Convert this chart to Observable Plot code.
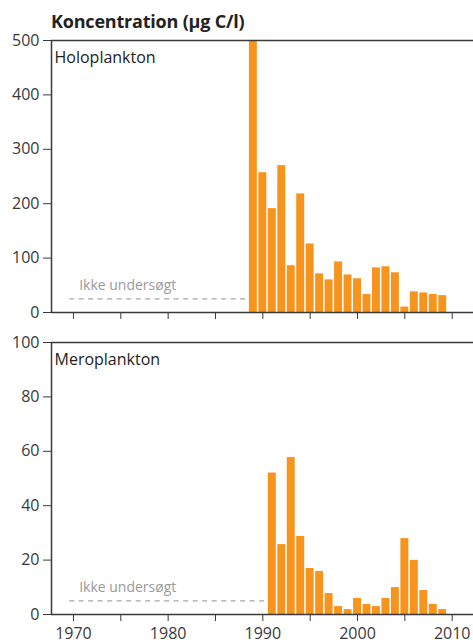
<!DOCTYPE html>
<html><head><meta charset="utf-8">
<script src="https://cdn.jsdelivr.net/npm/d3@7"></script>
<script src="https://cdn.jsdelivr.net/npm/@observablehq/plot@0.6"></script>
<style>
body{margin:0;background:#fff;font-family:"Open Sans",sans-serif;width:473px;height:643px;overflow:hidden;}
#title{height:32px;position:relative;}
#title span{position:absolute;left:51px;top:12px;line-height:1;font-weight:bold;font-size:18px;color:#222;white-space:nowrap;letter-spacing:-0.2px;}
svg{display:block}
</style></head><body>
<div id="title"><span>Koncentration (µg C/l)</span></div>
<div id="top"></div><div id="bottom"></div>
<script>
const holoYears = [1989,1990,1991,1992,1993,1994,1995,1996,1997,1998,1999,2000,2001,2002,2003,2004,2005,2006,2007,2008,2009];
const holoValues = [500,257,191,270,86,218,126,71,60,93,69,62,33,82,84,73,10,38,36,33,31];
const meroYears = [1991,1992,1993,1994,1995,1996,1997,1998,1999,2000,2001,2002,2003,2004,2005,2006,2007,2008,2009];
const meroValues = [52,25.7,57.7,28.7,16.9,15.8,7.7,2.9,1.8,5.9,3.7,2.9,5.9,9.9,27.9,19.9,8.8,3.7,1.8];
const panelNames = ["Holoplankton","Meroplankton"];
const noteText = "Ikke undersøgt";
const holoTicks = [0,100,200,300,400,500];
const meroTicks = [0,20,40,60,80,100];
const xTicks = [1970,1975,1980,1985,1990,1995,2000,2005,2010];
const xDomain = [1967.68, 2012.25];
const holoNote = {x1: 1969.6, x2: 1988.4, y: 25};
const meroNote = {x1: 1969.6, x2: 1990.5, y: 5};

const orange = "#F7941D";
const axisColor = "#3a3a3a";

function panel({years, values, yTicks, yMax, name, note, height, marginTop, marginBottom, labels}) {
  const data = years.map((year, i) => ({year, value: values[i]}));
  return Plot.plot({
    width: 473,
    height,
    marginLeft: 51,
    marginRight: 0,
    marginTop,
    marginBottom,
    style: {fontFamily: "Open Sans, sans-serif", fontSize: "16px", color: axisColor, background: "#fff", overflow: "visible"},
    x: {domain: xDomain, ticks: xTicks, tickSize: 7, tickPadding: 6,
        tickFormat: d => (labels && d % 10 === 0) ? String(d) : "", label: null},
    y: {domain: [0, yMax], ticks: yTicks, tickSize: 8, tickPadding: 4, label: null},
    marks: [
      Plot.rectY(data, {x1: d => d.year - 0.42, x2: d => d.year + 0.42, y: "value", fill: orange, clip: true}),
      Plot.ruleY([note], {x1: "x1", x2: "x2", y: "y", stroke: "#a6a6a6", strokeWidth: 1.3, strokeDasharray: "5,4.5"}),
      Plot.text([note], {x: 1970.6, y: "y", text: () => noteText, textAnchor: "start", dy: -13, fill: "#9a9a9a", fontSize: 14}),
      Plot.text([name], {x: xDomain[0], y: yMax, text: d => d, textAnchor: "start", dx: 3, dy: 17, fill: "#222", fontSize: 16}),
      Plot.ruleY([0, yMax], {x1: xDomain[0], x2: xDomain[1], stroke: axisColor, strokeWidth: 1.5}),
      Plot.ruleX([xDomain[0]], {y1: 0, y2: yMax, stroke: axisColor, strokeWidth: 1.5})
    ]
  });
}

document.getElementById("top").append(panel({
  years: holoYears, values: holoValues, yTicks: holoTicks, yMax: 500, name: panelNames[0],
  note: holoNote, height: 294, marginTop: 8, marginBottom: 14, labels: false
}));
document.getElementById("bottom").append(panel({
  years: meroYears, values: meroValues, yTicks: meroTicks, yMax: 100, name: panelNames[1],
  note: meroNote, height: 317, marginTop: 16, marginBottom: 29, labels: true
}));
</script>
</body></html>
